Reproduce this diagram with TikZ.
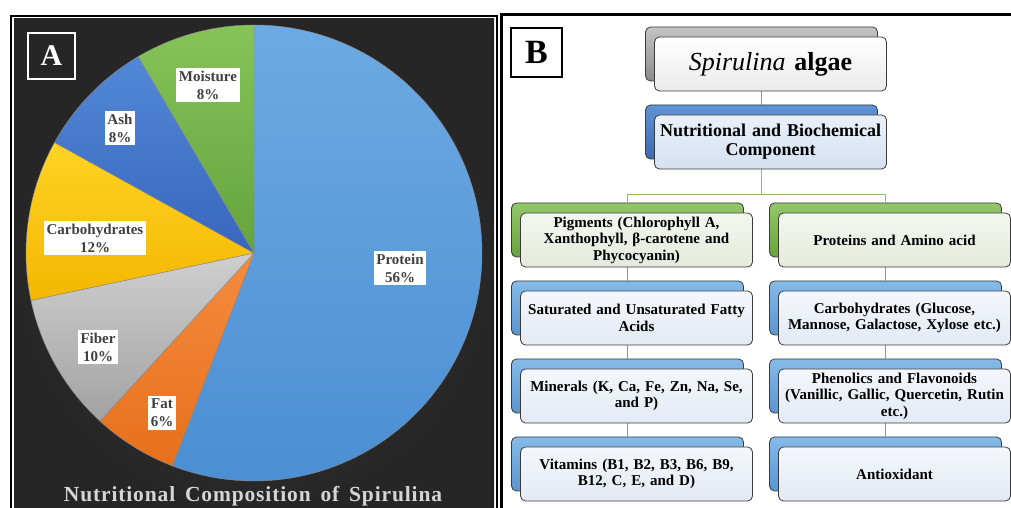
\documentclass[tikz,border=0pt]{standalone}
\usepackage{fontspec}
\setmainfont{Liberation Serif}
\usetikzlibrary{positioning,calc}

\definecolor{bgin}{HTML}{3C3C3C}
\definecolor{bgout}{HTML}{262626}
\definecolor{protT}{HTML}{6DAAE3}
\definecolor{protB}{HTML}{4A8ED3}
\definecolor{fatT}{HTML}{F58B3E}
\definecolor{fatB}{HTML}{E6701C}
\definecolor{fibT}{HTML}{CFCFCF}
\definecolor{fibB}{HTML}{A2A2A2}
\definecolor{carbT}{HTML}{FFD324}
\definecolor{carbB}{HTML}{F4B700}
\definecolor{ashT}{HTML}{5288D6}
\definecolor{ashB}{HTML}{3866BD}
\definecolor{moiT}{HTML}{86C458}
\definecolor{moiB}{HTML}{64A43E}
\definecolor{labelgray}{HTML}{404040}
\definecolor{titlegray}{HTML}{D6D6D6}
\definecolor{boxline}{HTML}{3A3A3A}
\definecolor{grayT}{HTML}{C4C4C4}
\definecolor{grayB}{HTML}{8C8C8C}
\definecolor{navyT}{HTML}{5F92D6}
\definecolor{navyB}{HTML}{3D6CB0}
\definecolor{leafT}{HTML}{93C86A}
\definecolor{leafB}{HTML}{68A33A}
\definecolor{skyT}{HTML}{86BBE8}
\definecolor{skyB}{HTML}{5A95D0}
\definecolor{paleT}{HTML}{F4F7FB}
\definecolor{paleB}{HTML}{E3EAF4}
\definecolor{mintT}{HTML}{F3F6EF}
\definecolor{mintB}{HTML}{E4EADC}
\definecolor{iceT}{HTML}{EAF0F9}
\definecolor{iceB}{HTML}{D5E1F1}
\definecolor{linkblue}{HTML}{7098CC}
\definecolor{linkgreen}{HTML}{8CC35C}

\tikzset{
  slicelabel/.style={fill=white, text=labelgray, align=center, inner sep=2.5pt,
    font=\bfseries\fontsize{15}{18}\selectfont},
  tab/.style={draw=boxline, line width=0.8pt, rounded corners=5pt,
    minimum width=232pt, minimum height=54pt},
  card/.style={draw=boxline, line width=0.8pt, rounded corners=5pt,
    minimum width=232pt, minimum height=54pt, inner ysep=1pt,
    text width=224pt, align=center, font=\bfseries\fontsize{15}{16.5}\selectfont},
  link/.style={line width=0.9pt},
}

\begin{document}
\begin{tikzpicture}[x=1pt,y=1pt]
\useasboundingbox (0,0) rectangle (1011,508);

% ---- panel A : pie chart
\shade[inner color=bgin, outer color=bgout] (14,0) rectangle (494,489);
\draw[line width=2pt] (11,-2) -- (11,492) -- (497,492) -- (497,-2);

\coordinate (ctr) at (254,255);
\foreach \a/\b/\ct/\cb in {90/-111/protT/protB, -111/-132.5/fatT/fatB,
    -132.5/-168/fibT/fibB, -168/-209/carbT/carbB, -209/-239.5/ashT/ashB,
    -239.5/-270/moiT/moiB}
  \shadedraw[top color=\ct, bottom color=\cb, draw=black!45, line width=0.4pt]
    (ctr) -- ++(\a:228) arc[start angle=\a, end angle=\b, radius=228] -- cycle;

\node[slicelabel] (moi) at (208,423) {Moisture\\8\%};
\node[slicelabel] (ash) at (120,380) {Ash\\8\%};
\node[slicelabel] (carb) at (95,270) {Carbohydrates\\12\%};
\node[slicelabel] (prot) at (400,240) {Protein\\56\%};
\node[slicelabel] (fib) at (98,161) {Fiber\\10\%};
\node[slicelabel] (fat) at (162,95) {Fat\\6\%};

\node[draw=white, line width=2pt, minimum width=47pt, minimum height=46pt,
  text=white, font=\bfseries\fontsize{30}{30}\selectfont] (tagA) at (51.5,452) {A};

\node[anchor=base, text=titlegray, inner sep=0pt,
  font=\bfseries\fontsize{21.5}{21.5}\selectfont\addfontfeatures{LetterSpace=4}]
  (title) at (253,6) {Nutritional\, Composition\, of\, Spirulina};

% ---- panel B : component chart
\draw[line width=3pt] (501,-2) -- (501,493.5) -- (1013,493.5);
\node[draw, line width=2pt, minimum width=51pt, minimum height=49pt,
  font=\bfseries\fontsize{34}{34}\selectfont] (tagB) at (536.5,455.5) {B};

% back tabs
\node[tab, top color=grayT, bottom color=grayB] (spiT) at (761.5,454) {};
\node[tab, top color=navyT, bottom color=navyB] (nutT) at (761.5,376) {};
\node[tab, top color=leafT, bottom color=leafB] (pigT) at (627.5,278) {};
\node[tab, top color=skyT, bottom color=skyB] (fatT) at (627.5,200) {};
\node[tab, top color=skyT, bottom color=skyB] (minT) at (627.5,122) {};
\node[tab, top color=skyT, bottom color=skyB] (vitT) at (627.5,44) {};
\node[tab, top color=leafT, bottom color=leafB] (proT) at (885.5,278) {};
\node[tab, top color=skyT, bottom color=skyB] (chT) at (885.5,200) {};
\node[tab, top color=skyT, bottom color=skyB] (phT) at (885.5,122) {};
\node[tab, top color=skyT, bottom color=skyB] (antT) at (885.5,44) {};

% connectors
\draw[link, linkblue] (spiT.south) -- (nutT.north);
\draw[link, linkgreen] (nutT.south) -- ++(0,-35) coordinate (fork);
\draw[link, linkgreen] (fork) -| (pigT.north);
\draw[link, linkgreen] (fork) -| (proT.north);
\draw[link, linkblue] (pigT.south) -- (fatT.north);
\draw[link, linkblue] (fatT.south) -- (minT.north);
\draw[link, linkblue] (minT.south) -- (vitT.north);
\draw[link, linkblue] (proT.south) -- (chT.north);
\draw[link, linkblue] (chT.south) -- (phT.north);
\draw[link, linkblue] (phT.south) -- (antT.north);

% front cards
\node[card, top color=white, bottom color=black!8,
  font=\fontsize{26}{28}\selectfont] (spi) at ([shift={(9,-10)}]spiT.center)
  {\textit{Spirulina} \textbf{algae}};
\node[card, top color=iceT, bottom color=iceB,
  font=\bfseries\fontsize{18}{19}\selectfont] (nut) at ([shift={(9,-10)}]nutT.center)
  {Nutritional and Biochemical\\Component};
\node[card, top color=mintT, bottom color=mintB] (pig) at ([shift={(9,-10)}]pigT.center)
  {Pigments (Chlorophyll A,\\Xanthophyll, β-carotene and\\Phycocyanin)};
\node[card, top color=paleT, bottom color=paleB] (sat) at ([shift={(9,-10)}]fatT.center)
  {Saturated and Unsaturated Fatty\\Acids};
\node[card, top color=paleT, bottom color=paleB] (min) at ([shift={(9,-10)}]minT.center)
  {Minerals (K, Ca, Fe, Zn, Na, Se,\\and P)};
\node[card, top color=paleT, bottom color=paleB] (vit) at ([shift={(9,-10)}]vitT.center)
  {Vitamins (B1, B2, B3, B6, B9,\\B12, C, E, and D)};
\node[card, top color=mintT, bottom color=mintB] (pro) at ([shift={(9,-10)}]proT.center)
  {Proteins and Amino acid};
\node[card, top color=paleT, bottom color=paleB] (carbo) at ([shift={(9,-10)}]chT.center)
  {Carbohydrates (Glucose,\\Mannose, Galactose, Xylose etc.)};
\node[card, top color=paleT, bottom color=paleB] (phen) at ([shift={(9,-10)}]phT.center)
  {Phenolics and Flavonoids\\(Vanillic, Gallic, Quercetin, Rutin\\etc.)};
\node[card, top color=paleT, bottom color=paleB] (anti) at ([shift={(9,-10)}]antT.center)
  {Antioxidant};
\end{tikzpicture}
\end{document}
